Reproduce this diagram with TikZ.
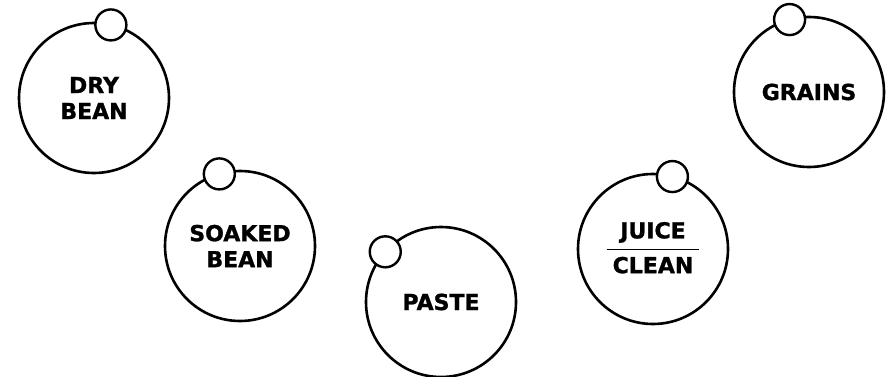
\documentclass[tikz,border=0pt]{standalone}
\usepackage{fontspec}
\setsansfont{DejaVu Sans}[BoldFeatures={FakeBold=1.2}]
\usepackage{tikz}
\usetikzlibrary{positioning}

\begin{document}
\begin{tikzpicture}[
  x=1pt, y=-1pt,
  stage/.style={draw, circle, line width=2.6pt, minimum size=150pt, inner sep=0pt, outer sep=0pt,
    align=center, font=\sffamily\bfseries\fontsize{22}{26}\selectfont},
  knob/.style={draw, circle, line width=2.4pt, fill=white, minimum size=31pt, inner sep=0pt}
]
\useasboundingbox (0,0) rectangle (891,377);
\node[stage] (dry) at (94,98) {DRY\\BEAN};
\node[stage] (soaked) at (240,246) {SOAKED\\BEAN};
\node[stage] (paste) at (441,302) {PASTE};
\node[stage] (juice) at (653,249) {\renewcommand\arraystretch{1.3}\setlength\arrayrulewidth{1pt}%
  \begin{tabular}{c}JUICE\\\hline CLEAN\end{tabular}};
\node[stage] (grains) at (809,92) {GRAINS};
\node[knob] (drydot) at (dry.77) {};
\node[knob] (soakeddot) at (soaked.106) {};
\node[knob] (pastedot) at (paste.138) {};
\node[knob] (juicedot) at (juice.75) {};
\node[knob] (grainsdot) at (grains.105) {};
\end{tikzpicture}
\end{document}
